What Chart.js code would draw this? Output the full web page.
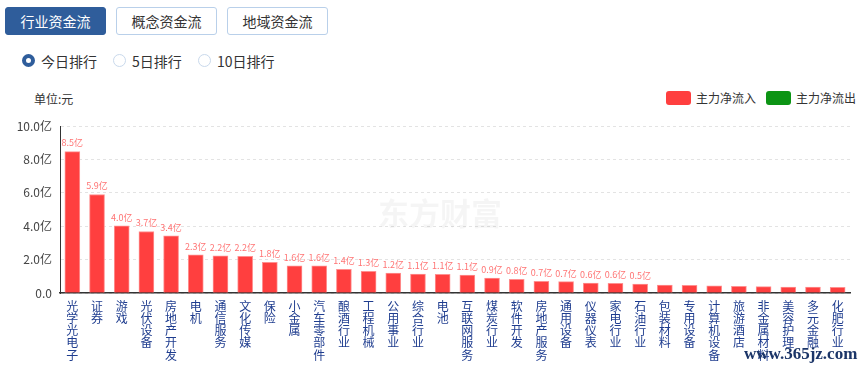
<!DOCTYPE html>
<html>
<head>
<meta charset="utf-8">
<script src="https://cdn.jsdelivr.net/npm/chart.js@4.4.0/dist/chart.umd.min.js"></script>
<style>
  html, body { margin: 0; padding: 0; background: #fff; }
  body { width: 866px; height: 374px; position: relative; overflow: hidden;
         font-family: "Noto Sans CJK SC", "Noto Sans", sans-serif; color: #333; }
  .btn { position: absolute; top: 7px; width: 101px; height: 28px; box-sizing: border-box;
         border: 1px solid #b9d0ea; border-radius: 3px; background: #fff;
         font-size: 14px; line-height: 26px; text-align: center; color: #333; }
  .btn.active { background: #2f5d9b; border-color: #2f5d9b; color: #fff; }
  .radio { position: absolute; top: 51px; height: 20px; font-size: 14px; line-height: 20px; }
  .radio i { position: absolute; left: 0; top: 3px; width: 13px; height: 13px; box-sizing: border-box;
             border-radius: 50%; border: 1px solid #c9d9ec; background: #fff; }
  .radio.on i { border: 4px solid #2f5d9b; }
  .radio span { position: absolute; left: 19px; top: 0; white-space: nowrap; }
  .unit { position: absolute; left: 34px; top: 90px; font-size: 12px; }
  .legend { position: absolute; top: 90px; font-size: 12px; line-height: 16px; white-space: nowrap; }
  .legend b { display: inline-block; width: 25px; height: 14px; border-radius: 3px; vertical-align: -2px; margin-right: 5px; }
  #chartBox { position: absolute; left: 0; top: 110px; width: 866px; height: 264px; }
  .mark { position: absolute; left: 744px; top: 344px; font-family: "Liberation Serif", serif; font-weight: bold;
          font-size: 17px; color: #1b3568; }
</style>
</head>
<body>
<div class="btn active" style="left:5px">行业资金流</div>
<div class="btn" style="left:116px">概念资金流</div>
<div class="btn" style="left:227px">地域资金流</div>

<div class="radio on" style="left:22px"><i></i><span>今日排行</span></div>
<div class="radio" style="left:113px"><i></i><span>5日排行</span></div>
<div class="radio" style="left:198px"><i></i><span>10日排行</span></div>

<div class="unit">单位:元</div>
<div class="legend" style="left:666px"><b style="background:#ff3f3f"></b>主力净流入</div>
<div class="legend" style="left:766px"><b style="background:#0c9414"></b>主力净流出</div>

<div id="chartBox"><canvas id="flowChart"></canvas></div>
<div class="mark">www.365jz.com</div>

<script>
const categories = ['光学光电子', '证券', '游戏', '光伏设备', '房地产开发', '电机', '通信服务', '文化传媒',
  '保险', '小金属', '汽车零部件', '酿酒行业', '工程机械', '公用事业', '综合行业', '电池',
  '互联网服务', '煤炭行业', '软件开发', '房地产服务', '通用设备', '仪器仪表', '家电行业', '石油行业',
  '包装材料', '专用设备', '计算机设备', '旅游酒店', '非金属材料', '美容护理', '多元金融', '化肥行业'];

// net inflow, 亿
const inflow = [8.47, 5.9, 4.02, 3.68, 3.42, 2.28, 2.22, 2.2,
  1.84, 1.62, 1.62, 1.42, 1.3, 1.2, 1.13, 1.12,
  1.08, 0.9, 0.82, 0.7, 0.68, 0.6, 0.58, 0.53,
  0.48, 0.46, 0.43, 0.4, 0.38, 0.36, 0.35, 0.34];

const valueLabels = ['8.5亿', '5.9亿', '4.0亿', '3.7亿', '3.4亿', '2.3亿', '2.2亿', '2.2亿',
  '1.8亿', '1.6亿', '1.6亿', '1.4亿', '1.3亿', '1.2亿', '1.1亿', '1.1亿',
  '1.1亿', '0.9亿', '0.8亿', '0.7亿', '0.7亿', '0.6亿', '0.6亿', '0.5亿',
  '', '', '', '', '', '', '', ''];

const yTickLabels = { 0: '0.0', 2: '2.0亿', 4: '4.0亿', 6: '6.0亿', 8: '8.0亿', 10: '10.0亿' };

const CJK = '"Noto Sans CJK SC", "Noto Sans", sans-serif';

// bar value labels + faint watermark
const barLabels = {
  id: 'barLabels',
  beforeDatasetsDraw(chart) {
    const ctx = chart.ctx;
    ctx.save();
    ctx.fillStyle = 'rgba(0,0,0,0.04)';
    ctx.font = 'bold 31px ' + CJK;
    ctx.textBaseline = 'middle';
    ctx.fillText('东方财富', 378, 103);
    ctx.restore();
  },
  afterDatasetsDraw(chart) {
    const ctx = chart.ctx;
    const meta = chart.getDatasetMeta(0);
    ctx.save();
    ctx.fillStyle = '#ff7474';
    ctx.font = '9px ' + CJK;
    ctx.textAlign = 'center';
    ctx.textBaseline = 'bottom';
    meta.data.forEach((bar, i) => {
      if (valueLabels[i]) ctx.fillText(valueLabels[i], bar.x, bar.y - 4);
    });
    ctx.restore();
  }
};

const ctx = document.getElementById('flowChart').getContext('2d');
new Chart(ctx, {
  type: 'bar',
  data: {
    labels: categories.map(c => c.split('')),
    datasets: [{
      label: '主力净流入',
      data: inflow,
      backgroundColor: '#ff3f3f',
      borderColor: '#ff9090',
      borderWidth: 1,
      borderSkipped: 'bottom',
      barThickness: 15
    }]
  },
  options: {
    responsive: true,
    maintainAspectRatio: false,
    animation: false,
    layout: { padding: { top: 16, right: 16, left: 0, bottom: 0 } },
    plugins: {
      legend: { display: false },
      tooltip: { enabled: false }
    },
    scales: {
      y: {
        min: 0,
        max: 10,
        afterFit: scale => { scale.width = 60; },
        ticks: {
          stepSize: 2,
          padding: 8,
          color: '#444',
          font: { size: 12, family: CJK },
          callback: value => yTickLabels[value]
        },
        grid: { color: '#e3e3e3', drawTicks: false },
        border: { color: '#333', width: 1, dash: [3, 3] }
      },
      x: {
        afterFit: scale => { scale.height = 81; },
        ticks: {
          autoSkip: false,
          maxRotation: 0,
          minRotation: 0,
          padding: 7,
          color: '#1f3d8f',
          font: { size: 12, family: CJK, lineHeight: 1.02 }
        },
        grid: { display: false, drawTicks: false },
        border: { color: '#333', width: 1.5 }
      }
    }
  },
  plugins: [barLabels]
});
</script>
</body>
</html>
